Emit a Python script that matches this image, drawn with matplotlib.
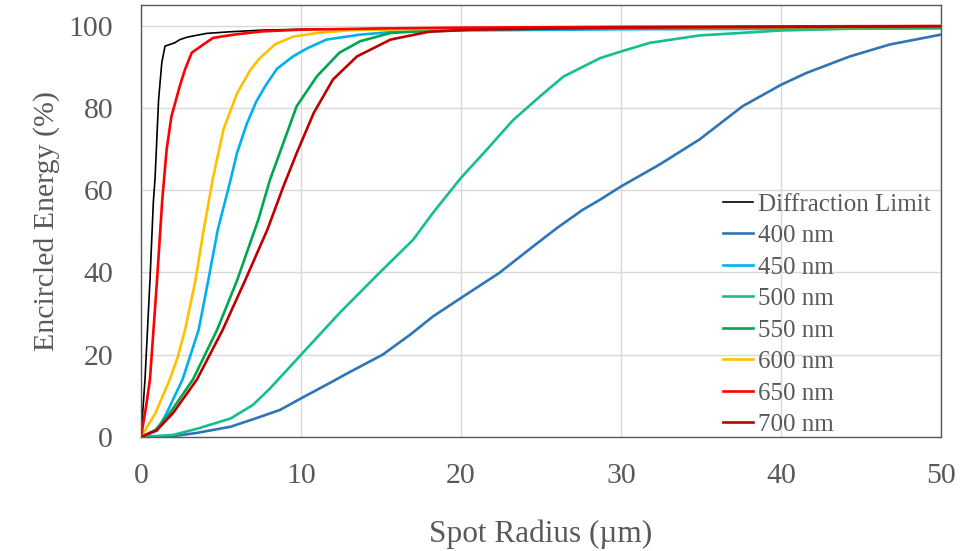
import matplotlib
matplotlib.use("Agg")
import matplotlib.pyplot as plt

# Encircled energy vs. spot radius for each wavelength
labels = ["Diffraction Limit", "400 nm", "450 nm", "500 nm", "550 nm",
          "600 nm", "650 nm", "700 nm"]
colors = ["#000000", "#2E75B6", "#00B0F0", "#14BE8E", "#00A651",
          "#FFC000", "#FF0000", "#C00000"]

diff_x = [0, 0.25, 0.56, 0.77, 0.88, 1.1, 1.3, 1.5, 1.8, 2.1, 2.44, 2.9, 4.1,
          5.6, 7.6, 10, 20, 30, 50]
diff_y = [0, 14, 38, 57, 63, 82, 91, 95, 95.4, 95.8, 96.6, 97.2, 98.1,
          98.5, 98.9, 99.1, 99.4, 99.6, 99.8]

nm400_x = [0, 1.8, 3.5, 5.6, 7, 8.7, 10.1, 11.5, 13.1, 15.1, 16.8, 18.25, 20,
           22.4, 24.5, 26, 27.6, 28.7, 30, 32.4, 34.9, 37.6, 40, 41.6, 44.3,
           46.8, 50]
nm400_y = [0, 0.1, 1, 2.5, 4.3, 6.6, 9.6, 12.5, 15.9, 20, 24.8, 29.3, 33.8,
           39.9, 46.3, 50.8, 55.2, 57.7, 60.9, 66.2, 72.3, 80.4, 85.6, 88.5,
           92.5, 95.4, 97.8]

nm450_x = [0, 1, 1.6, 2.6, 3.6, 4.2, 4.8, 5.6, 6.0, 6.6, 7.2, 7.8, 8.5, 9.5,
           10.4, 11.6, 13.7, 15.6, 20, 30, 50]
nm450_y = [0, 1.5, 5.8, 14, 26, 38, 50.4, 62.5, 69, 76, 81.5, 85.5, 89.5,
           92.5, 94.5, 96.6, 97.8, 98.4, 98.8, 99.1, 99.3]

nm500_x = [0, 2, 3.5, 5.6, 7, 8.06, 10.1, 12.4, 14.9, 17, 18.25, 20, 21.6,
           23.25, 25, 26.4, 28.7, 30, 31.8, 34.9, 40, 45, 50]
nm500_y = [0, 0.5, 2, 4.5, 7.8, 11.8, 20.4, 30.1, 39.9, 47.9, 54.5, 63, 69.8,
           77, 83, 87.6, 92.1, 93.7, 95.8, 97.6, 98.8, 99.3, 99.6]

nm550_x = [0, 0.9, 1.8, 3.25, 4.75, 6.0, 7.33, 8.06, 8.9, 9.73, 11, 12.4,
           13.7, 15.6, 18, 20, 30, 50]
nm550_y = [0, 1.7, 5.8, 14, 26, 38, 52.8, 62.5, 71.5, 80.4, 87.7, 93.4,
           96.2, 98.2, 98.8, 99, 99.4, 99.6]

nm600_x = [0, 0.9, 1.8, 2.3, 2.75, 3.4, 3.9, 4.5, 5.15, 6.0, 6.8, 7.4, 8.4,
           9.5, 11, 13.1, 20, 30, 50]
nm600_y = [0, 5.8, 14, 19.5, 26, 38, 50, 63, 74.7, 83.5, 89, 92, 95.5, 97.3,
           98.2, 98.9, 99.3, 99.5, 99.7]

nm650_x = [0, 0.3, 0.56, 1.0, 1.33, 1.6, 1.9, 2.44, 2.75, 3.17, 3.9, 4.5,
           5.8, 7.6, 10, 15, 20, 30, 50]
nm650_y = [0, 7, 14, 38, 57.7, 69.8, 77.9, 85.5, 89.3, 93.4, 95.4, 97,
           97.8, 98.6, 99, 99.3, 99.5, 99.7, 99.9]

nm700_x = [0, 1, 2, 3.5, 5.1, 6.5, 7.9, 8.9, 9.73, 10.8, 12.0, 13.5,
           15.6, 18, 20.5, 30, 50]
nm700_y = [0, 1.7, 5.8, 14, 26, 38, 50.4, 60.9, 69, 78.8, 86.9, 92.5,
           96.6, 98.5, 99, 99.5, 99.8]

series = [(diff_x, diff_y), (nm400_x, nm400_y), (nm450_x, nm450_y),
          (nm500_x, nm500_y), (nm550_x, nm550_y), (nm600_x, nm600_y),
          (nm650_x, nm650_y), (nm700_x, nm700_y)]

x_ticks = [0, 10, 20, 30, 40, 50]
y_ticks = [0, 20, 40, 60, 80, 100]

plt.rcParams["font.family"] = ["Liberation Serif", "DejaVu Serif"]
text_color = "#595959"

fig = plt.figure(figsize=(9.71, 5.51), dpi=100)
ax = fig.add_axes([141 / 971, 1 - 437 / 551, 800 / 971, 432 / 551])

for (xs, ys), lab, col in zip(series, labels, colors):
    lw = 1.2 if lab == "Diffraction Limit" else 1.9
    ax.plot(xs, ys, color=col, lw=lw, label=lab, solid_joinstyle="round")

ax.set_xlim(0, 50)
ax.set_ylim(0, 105)
ax.set_xticks(x_ticks)
ax.set_yticks(y_ticks)
ax.grid(True, color="#D9D9D9", lw=1.0)
ax.set_axisbelow(True)
ax.tick_params(length=0, labelsize=21.5, colors=text_color)
ax.tick_params(axis="y", pad=20)
ax.tick_params(axis="x", pad=19)
for s in ax.spines.values():
    s.set_color("#595959")
    s.set_linewidth(1.0)

ax.set_xlabel("Spot Radius (\u00b5m)", fontsize=22.5, color=text_color,
              labelpad=22)
ax.set_ylabel("Encircled Energy (%)", fontsize=21.5, color=text_color,
              labelpad=6)

leg = ax.legend(loc="upper left",
                bbox_to_anchor=((723 - 141) / 800, (437 - 193) / 432),
                frameon=False, fontsize=18, handlelength=1.2,
                handletextpad=0.2, labelspacing=0.36, borderpad=0,
                borderaxespad=0)
for t in leg.get_texts():
    t.set_color(text_color)

fig.savefig("out.png", dpi=100)
